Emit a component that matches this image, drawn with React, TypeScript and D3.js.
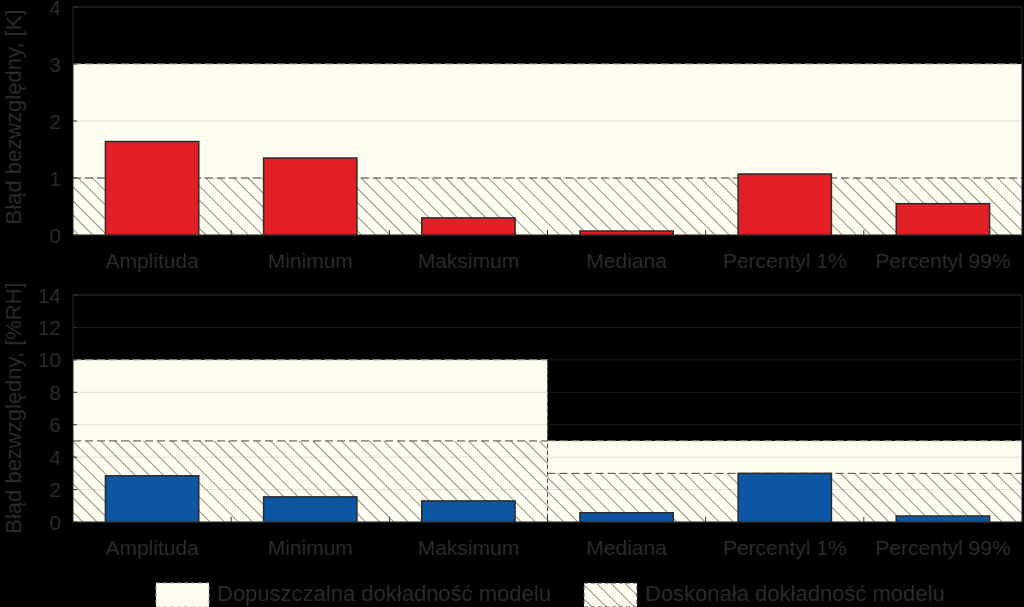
import React from 'react';
import * as d3 from 'd3';

const categories = ['Amplituda', 'Minimum', 'Maksimum', 'Mediana', 'Percentyl 1%', 'Percentyl 99%'];
const tempErrors = [1.64, 1.35, 0.3, 0.07, 1.07, 0.55];
const humErrors = [2.85, 1.55, 1.3, 0.57, 3.0, 0.37];
// acceptable / perfect accuracy limits per category
const tempAcceptable = [3, 3, 3, 3, 3, 3];
const tempPerfect = [1, 1, 1, 1, 1, 1];
const humAcceptable = [10, 10, 10, 5, 5, 5];
const humPerfect = [5, 5, 5, 3, 3, 3];
const tempTicks = [0, 1, 2, 3, 4];
const humTicks = [0, 2, 4, 6, 8, 10, 12, 14];
const legendLabels = ['Dopuszczalna dokładność modelu', 'Doskonała dokładność modelu'];

const W = 1024;
const H = 607;
const left = 73;
const right = 1022;
const textCol = '#2a2a2a';
const cream = '#fffcf0';
const font = '"Liberation Sans", Arial, sans-serif';

const x = d3.scaleBand<string>().domain(categories).range([left, right]).paddingInner(0.41).paddingOuter(0.205);

// group consecutive categories sharing the same zone limits
function zones(acc: number[], perf: number[]) {
  const out: { start: number; end: number; acc: number; perf: number }[] = [];
  acc.forEach((a, i) => {
    const last = out[out.length - 1];
    if (last && last.acc === a && last.perf === perf[i]) last.end = i;
    else out.push({ start: i, end: i, acc: a, perf: perf[i] });
  });
  return out;
}

function Panel({ values, acc, perf, ticks, top, bottom, color, title, id, titleY }: any) {
  const y = d3.scaleLinear().domain([0, ticks[ticks.length - 1]]).range([bottom, top]);
  const step = x.step();
  const zs = zones(acc, perf);
  const bx = (i: number) => left + i * step;
  return (
    <g>
      {/* zones */}
      {zs.map((z, k) => {
        const x0 = bx(z.start);
        const x1 = bx(z.end + 1);
        return (
          <g key={k}>
            <rect x={x0} y={y(z.acc)} width={x1 - x0} height={y(0) - y(z.acc)} fill={cream} />
            <rect x={x0} y={y(z.perf)} width={x1 - x0} height={y(0) - y(z.perf)} fill={`url(#${id})`} />
          </g>
        );
      })}
      {/* grid */}
      {ticks.map((t: number) => (
        <line key={t} x1={left} x2={right} y1={y(t)} y2={y(t)} stroke="#808080" strokeOpacity={0.22} strokeWidth={1} />
      ))}
      {/* zone borders */}
      {zs.map((z, k) => {
        const x0 = bx(z.start);
        const x1 = bx(z.end + 1);
        return (
          <g key={'b' + k} fill="none" strokeWidth={1} strokeDasharray="8,4">
            <line x1={x0} x2={x1} y1={y(z.acc)} y2={y(z.acc)} stroke="#b0aea6" />
            <line x1={x0} x2={x1} y1={y(z.perf)} y2={y(z.perf)} stroke="#444" />
          </g>
        );
      })}
      {zs.slice(1).map((z, k) => (
        <line key={'v' + k} x1={bx(z.start)} x2={bx(z.start)} y1={y(Math.max(z.acc, zs[k].acc))} y2={y(0)}
          stroke="#444" strokeDasharray="4,3" />
      ))}
      {/* frame */}
      <rect x={left} y={top} width={right - left} height={bottom - top} fill="none" stroke="#262626" strokeWidth={1} />
      {/* bars */}
      {values.map((v: number, i: number) => (
        <rect key={i} x={x(categories[i])} y={y(v)} width={x.bandwidth()} height={y(0) - y(v)}
          fill={color} stroke="#2b2b2b" strokeWidth={1.5} />
      ))}
      {/* ticks */}
      {ticks.map((t: number) => (
        <g key={'t' + t}>
          <line x1={left} x2={left + 4} y1={y(t)} y2={y(t)} stroke="#333" />
          <text x={left - 12} y={y(t)} dy="0.36em" textAnchor="end" fontSize={21} fill={textCol} fontFamily={font}>{t}</text>
        </g>
      ))}
      {categories.map((c, i) => (
        <g key={c}>
          {i > 0 && <line x1={bx(i)} x2={bx(i)} y1={bottom} y2={bottom - 5} stroke="#333" />}
          <text x={(x(c) as number) + x.bandwidth() / 2} y={bottom + 33} textAnchor="middle" fontSize={21}
            fill={textCol} fontFamily={font}>{c}</text>
        </g>
      ))}
      <text transform={`translate(21,${titleY}) rotate(-90)`} textAnchor="middle" fontSize={22}
        fill={textCol} fontFamily={font}>{title}</text>
    </g>
  );
}

export default function App() {
  return (
    <svg width={W} height={H} style={{ position: 'fixed', left: 0, top: 0 }}>
      <defs>
        {['hatchA', 'hatchB', 'hatchL'].map((id) => (
          <pattern key={id} id={id} patternUnits="userSpaceOnUse" width={10} height={10}
            patternTransform="rotate(45)">
            <rect width={10} height={10} fill={cream} />
            <line x1={0} x2={10} y1={0} y2={0} stroke="#555" strokeWidth={1.3} />
          </pattern>
        ))}
      </defs>
      <rect width={W} height={H} fill="#000" />
      <Panel values={tempErrors} acc={tempAcceptable} perf={tempPerfect} ticks={tempTicks} top={7} bottom={235}
        color="#e21f26" title="Błąd bezwzględny, [K]" id="hatchA" titleY={117} />
      <Panel values={humErrors} acc={humAcceptable} perf={humPerfect} ticks={humTicks} top={295} bottom={522}
        color="#0d56a3" title="Błąd bezwzględny, [%RH]" id="hatchB" titleY={408} />
      {/* legend */}
      <rect x={156} y={583} width={53} height={24} fill={cream} stroke="#b0aea6" strokeDasharray="4,3" />
      <text x={217} y={601} fontSize={22} fill={textCol} fontFamily={font}>{legendLabels[0]}</text>
      <rect x={584} y={583} width={53} height={24} fill="url(#hatchL)" stroke="#444" strokeDasharray="4,3" />
      <text x={645} y={601} fontSize={22} fill={textCol} fontFamily={font}>{legendLabels[1]}</text>
    </svg>
  );
}
